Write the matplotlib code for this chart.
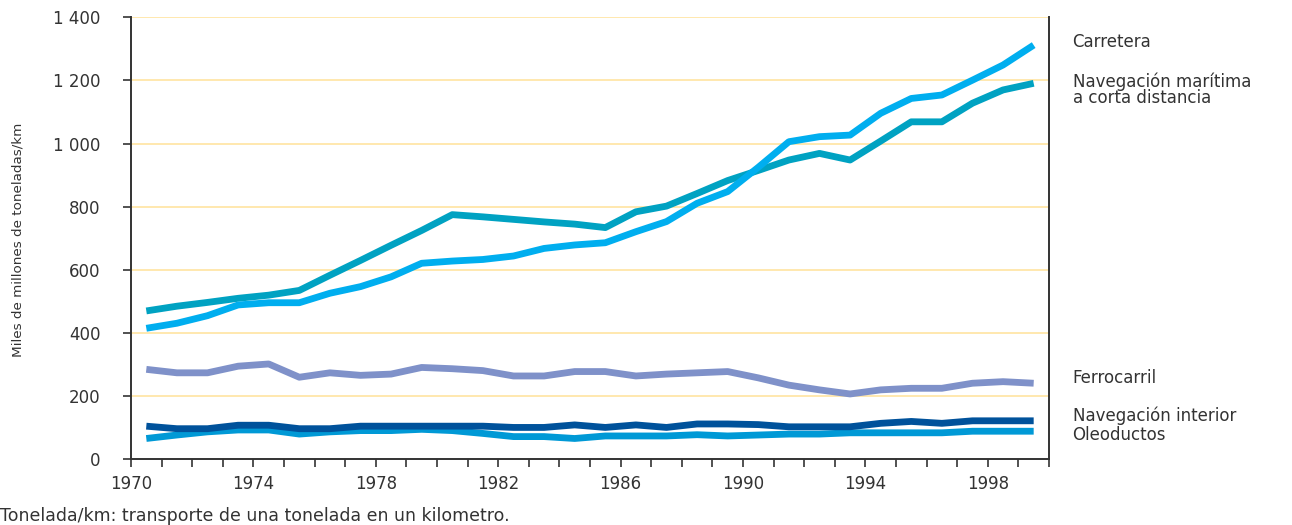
import numpy as np
import matplotlib
matplotlib.use("Agg")
import matplotlib.pyplot as plt
from matplotlib.ticker import MultipleLocator, FixedLocator

years = list(range(1970, 2000))

carretera = [415, 431, 455, 489, 496, 496, 526, 547, 578, 621,
             628, 633, 644, 668, 679, 686, 721, 753, 811, 848,
             925, 1006, 1022, 1027, 1096, 1143, 1154, 1201, 1249, 1312]

maritima = [470, 485, 497, 510, 520, 535, 583, 630, 678, 725,
            775, 768, 760, 752, 745, 734, 784, 802, 842, 883,
            915, 948, 969, 948, 1008, 1069, 1069, 1128, 1170, 1191]

ferrocarril = [285, 274, 274, 295, 302, 260, 274, 266, 270, 291,
               287, 281, 264, 264, 278, 278, 264, 270, 274, 278,
               258, 235, 220, 207, 220, 225, 225, 241, 246, 241]

interior = [105, 97, 97, 108, 108, 97, 97, 105, 105, 105,
            105, 105, 101, 101, 109, 101, 109, 101, 112, 112,
            110, 103, 103, 103, 114, 120, 114, 122, 122, 122]

oleoductos = [66, 77, 87, 93, 93, 80, 87, 91, 91, 95,
              91, 82, 72, 72, 66, 74, 74, 74, 78, 74,
              77, 80, 80, 84, 84, 84, 84, 89, 89, 89]

series_labels = ["Carretera", "Navegación marítima\na corta distancia",
                 "Ferrocarril", "Navegación interior", "Oleoductos"]
label_values = [1322, 1171, 257, 137, 77]

y_ticks = [0, 200, 400, 600, 800, 1000, 1200, 1400]
y_tick_labels = ["0", "200", "400", "600", "800", "1 000", "1 200", "1 400"]
x_major = [1970, 1974, 1978, 1982, 1986, 1990, 1994, 1998]

colors = {
    "carretera": "#00AEEF",
    "maritima": "#00A2C2",
    "ferrocarril": "#7F91C9",
    "interior": "#00529B",
    "oleoductos": "#0099D6",
}

plt.rcParams["font.family"] = ["DejaVu Sans"]

fig = plt.figure(figsize=(12.92, 5.25), dpi=100)
ax = fig.add_axes([0.1014, 0.1251, 0.7105, 0.8419])

x = np.array(years) + 0.5
lw = 4.9
ax.plot(x, oleoductos, color=colors["oleoductos"], lw=lw, solid_capstyle="butt", zorder=3)
ax.plot(x, interior, color=colors["interior"], lw=lw, solid_capstyle="butt", zorder=4)
ax.plot(x, ferrocarril, color=colors["ferrocarril"], lw=lw, solid_capstyle="butt", zorder=3)
ax.plot(x, maritima, color=colors["maritima"], lw=lw, solid_capstyle="butt", zorder=3)
ax.plot(x, carretera, color=colors["carretera"], lw=lw, solid_capstyle="butt", zorder=4)

ax.set_xlim(1970, 2000)
ax.set_ylim(0, 1400)

for v in y_ticks[1:]:
    ax.axhline(v, color="#FFE199", lw=1.1, zorder=1)

ax.yaxis.set_major_locator(FixedLocator(y_ticks))
ax.set_yticklabels(y_tick_labels)
ax.xaxis.set_major_locator(FixedLocator(x_major))
ax.xaxis.set_minor_locator(MultipleLocator(1))
ax.tick_params(axis="both", which="both", direction="out", length=6,
               width=1.2, color="#333333", labelcolor="#333333",
               labelsize=12)
ax.tick_params(axis="x", pad=5)
ax.tick_params(axis="y", pad=16)

for side in ("left", "right", "bottom"):
    ax.spines[side].set_color("#333333")
    ax.spines[side].set_linewidth(1.4)
ax.spines["top"].set_visible(False)

fig.text(18 / 1292, 1 - 240 / 525, "Miles de millones de toneladas/km",
         rotation=90, fontsize=9.7, color="#333333",
         ha="center", va="center")

for lab, v in zip(series_labels, label_values):
    ax.annotate(lab, xy=(1, v), xycoords=("axes fraction", "data"),
                xytext=(17, 0), textcoords="offset points",
                fontsize=12, color="#333333", va="center", ha="left",
                linespacing=0.85, annotation_clip=False)

fig.text(0.0, 9 / 525, "Tonelada/km: transporte de una tonelada en un kilometro.",
         fontsize=12.5, color="#333333", ha="left", va="center")

fig.savefig("out.png", dpi=100)
